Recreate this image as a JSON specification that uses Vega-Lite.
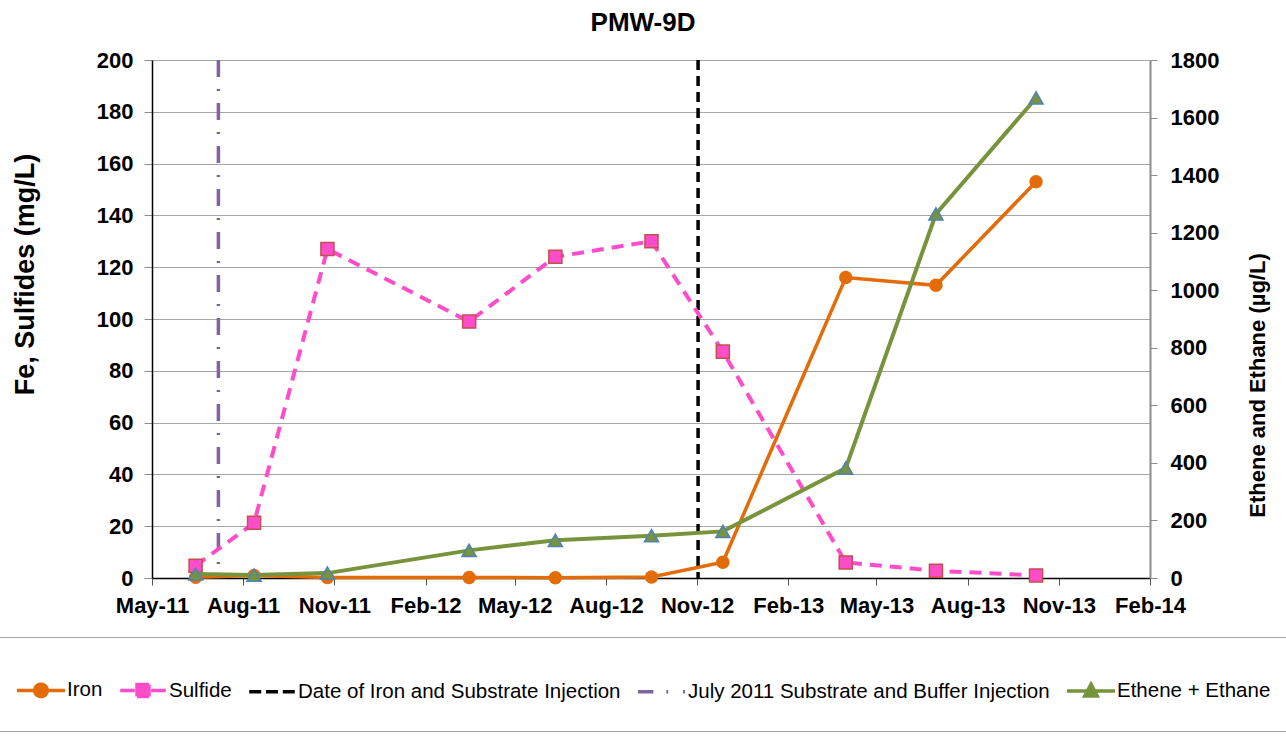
{
  "$schema": "https://vega.github.io/schema/vega-lite/v6.json",
  "width": 998,
  "height": 518,
  "autosize": "none",
  "padding": {"left": 152, "top": 60, "right": 136, "bottom": 162},
  "background": "white",
  "config": {
    "view": {"stroke": null},
    "font": "Arial, Liberation Sans, sans-serif",
    "axis": {
      "labelFont": "Arial, Liberation Sans, sans-serif",
      "labelFontSize": 22,
      "labelFontWeight": "bold",
      "labelColor": "black",
      "titleFont": "Arial, Liberation Sans, sans-serif",
      "titleFontWeight": "bold",
      "titleColor": "black"
    }
  },
  "title": {
    "text": "PMW-9D",
    "font": "Arial, Liberation Sans, sans-serif",
    "fontSize": 26,
    "fontWeight": "bold",
    "color": "black",
    "anchor": "middle",
    "frame": "group",
    "offset": 13,
    "dx": -8
  },
  "data": {
    "values": [
      {"date": "2011-06-14", "series": "Iron", "value": 0.3},
      {"date": "2011-08-12", "series": "Iron", "value": 1.0},
      {"date": "2011-10-25", "series": "Iron", "value": 0.2},
      {"date": "2012-03-16", "series": "Iron", "value": 0.2},
      {"date": "2012-06-11", "series": "Iron", "value": 0.1},
      {"date": "2012-09-16", "series": "Iron", "value": 0.4},
      {"date": "2012-11-27", "series": "Iron", "value": 6.1},
      {"date": "2013-03-31", "series": "Iron", "value": 116},
      {"date": "2013-06-30", "series": "Iron", "value": 113},
      {"date": "2013-10-09", "series": "Iron", "value": 153},
      {"date": "2011-06-14", "series": "Sulfide", "value": 4.7},
      {"date": "2011-08-12", "series": "Sulfide", "value": 21.3},
      {"date": "2011-10-25", "series": "Sulfide", "value": 127},
      {"date": "2012-03-16", "series": "Sulfide", "value": 99},
      {"date": "2012-06-11", "series": "Sulfide", "value": 124},
      {"date": "2012-09-16", "series": "Sulfide", "value": 130},
      {"date": "2012-11-27", "series": "Sulfide", "value": 87.4},
      {"date": "2013-03-31", "series": "Sulfide", "value": 6.0},
      {"date": "2013-06-30", "series": "Sulfide", "value": 2.8},
      {"date": "2013-10-09", "series": "Sulfide", "value": 1.0},
      {"date": "2011-06-14", "series": "Ethene + Ethane", "value": 14},
      {"date": "2011-08-12", "series": "Ethene + Ethane", "value": 10},
      {"date": "2011-10-25", "series": "Ethene + Ethane", "value": 17},
      {"date": "2012-03-16", "series": "Ethene + Ethane", "value": 96},
      {"date": "2012-06-11", "series": "Ethene + Ethane", "value": 131},
      {"date": "2012-09-16", "series": "Ethene + Ethane", "value": 147},
      {"date": "2012-11-27", "series": "Ethene + Ethane", "value": 162},
      {"date": "2013-03-31", "series": "Ethene + Ethane", "value": 382},
      {"date": "2013-06-30", "series": "Ethene + Ethane", "value": 1265},
      {"date": "2013-10-09", "series": "Ethene + Ethane", "value": 1668},
      {"date": "2012-11-02", "series": "Date of Iron and Substrate Injection"},
      {"date": "2011-07-07", "series": "July 2011 Substrate and Buffer Injection"}
    ]
  },
  "encoding": {
    "x": {
      "field": "date",
      "type": "temporal",
      "scale": {
        "type": "utc",
        "domain": [
          {"year": 2011, "month": 5, "date": 1, "utc": true},
          {"year": 2014, "month": 2, "date": 1, "utc": true}
        ]
      },
      "axis": {
        "title": null,
        "format": "%b-%y",
        "values": [
          {"year": 2011, "month": 5, "date": 1, "utc": true},
          {"year": 2011, "month": 8, "date": 1, "utc": true},
          {"year": 2011, "month": 11, "date": 1, "utc": true},
          {"year": 2012, "month": 2, "date": 1, "utc": true},
          {"year": 2012, "month": 5, "date": 1, "utc": true},
          {"year": 2012, "month": 8, "date": 1, "utc": true},
          {"year": 2012, "month": 11, "date": 1, "utc": true},
          {"year": 2013, "month": 2, "date": 1, "utc": true},
          {"year": 2013, "month": 5, "date": 1, "utc": true},
          {"year": 2013, "month": 8, "date": 1, "utc": true},
          {"year": 2013, "month": 11, "date": 1, "utc": true},
          {"year": 2014, "month": 2, "date": 1, "utc": true}
        ],
        "grid": false,
        "domainColor": "black",
        "domainWidth": 1.5,
        "tickColor": "#555555",
        "tickSize": 7,
        "tickWidth": 1,
        "labelPadding": 10,
        "labelOverlap": false,
        "labelFlush": false
      }
    }
  },
  "layer": [
    {
      "layer": [
        {
          "transform": [{"filter": "datum.series === 'July 2011 Substrate and Buffer Injection'"}],
          "mark": {"type": "rule", "strokeWidth": 3.5, "strokeDash": [17, 12, 2, 12]},
          "encoding": {
            "color": {
              "field": "series",
              "type": "nominal",
              "scale": {
                "domain": ["Iron", "Sulfide", "Date of Iron and Substrate Injection", "July 2011 Substrate and Buffer Injection", "Ethene + Ethane"],
                "range": ["#E36C09", "#FF4DC9", "#000000", "#8064A2", "#77933C"]
              },
              "legend": {
                "title": null,
                "orient": "none",
                "legendX": -164,
                "legendY": 577,
                "direction": "horizontal",
                "columns": 5,
                "padding": 27,
                "strokeColor": "#a6a6a6",
                "fillColor": "white",
                "symbolSize": 2304,
                "symbolStrokeWidth": 3.5,
                "labelFont": "Arial, Liberation Sans, sans-serif",
                "labelFontSize": 20.5,
                "labelFontWeight": "normal",
                "labelColor": "black",
                "labelLimit": 600,
                "labelOffset": 0,
                "columnPadding": 10,
                "encode": {
                  "symbols": {
                    "update": {
                      "shape": {"signal": "datum.value==='Iron'?'M-1,0H1M0.26,0A0.26,0.26,0,1,1,-0.26,0A0.26,0.26,0,1,1,0.26,0Z':datum.value==='Sulfide'?'M-0.95,0H-0.34M0.34,0H0.95M-0.25,-0.25H0.25V0.25H-0.25Z':datum.value==='Ethene + Ethane'?'M-1,0H1M0,-0.28L0.26,0.21L-0.26,0.21Z':datum.value==='Date of Iron and Substrate Injection'?'M-0.95,0H-0.45M-0.25,0H0.25M0.45,0H0.95':'M-1,0H-0.36M0.18,0H0.26M0.88,0H0.96'"},
                      "fill": {"signal": "datum.value==='Iron'?'#E36C09':datum.value==='Sulfide'?'#FF4DC9':datum.value==='Ethene + Ethane'?'#77933C':'transparent'"},
                      "stroke": {"signal": "datum.value==='Iron'?'#E36C09':datum.value==='Sulfide'?'#FF4DC9':datum.value==='Ethene + Ethane'?'#77933C':datum.value==='Date of Iron and Substrate Injection'?'#000000':'#8064A2'"},
                      "strokeDash": {"value": [1, 0]},
                      "strokeWidth": {"value": 3.5},
                      "opacity": {"value": 1}
                    }
                  }
                }
              }
            }
          }
        },
        {
          "transform": [{"filter": "datum.series === 'Date of Iron and Substrate Injection'"}],
          "mark": {"type": "rule", "strokeWidth": 3.5, "strokeDash": [10, 6]},
          "encoding": {"color": {"field": "series", "type": "nominal"}}
        },
        {
          "transform": [{"filter": "datum.series === 'Iron'"}],
          "mark": {"type": "line", "strokeWidth": 3.5},
          "encoding": {
            "y": {
              "field": "value",
              "type": "quantitative",
              "scale": {"domain": [0, 200], "nice": false},
              "axis": {
                "title": "Fe, Sulfides (mg/L)",
                "titleFontSize": 27,
                "titleAngle": 270,
                "titleX": -127,
                "titleY": 214,
                "titleAlign": "center",
                "titleBaseline": "middle",
                "values": [0, 20, 40, 60, 80, 100, 120, 140, 160, 180, 200],
                "grid": true,
                "gridColor": "#a6a6a6",
                "gridWidth": 1,
                "domainColor": "black",
                "domainWidth": 1.5,
                "tickColor": "#8c8c8c",
                "tickSize": 8,
                "labelPadding": 11
              }
            },
            "color": {"field": "series", "type": "nominal"}
          }
        },
        {
          "transform": [{"filter": "datum.series === 'Iron'"}],
          "mark": {"type": "point", "shape": "circle", "filled": true, "size": 180, "color": "#E36C09", "opacity": 1},
          "encoding": {"y": {"field": "value", "type": "quantitative"}}
        },
        {
          "transform": [{"filter": "datum.series === 'Sulfide'"}],
          "mark": {"type": "line", "strokeWidth": 4, "strokeDash": [12, 8]},
          "encoding": {
            "y": {"field": "value", "type": "quantitative"},
            "color": {"field": "series", "type": "nominal"}
          }
        },
        {
          "transform": [{"filter": "datum.series === 'Sulfide'"}],
          "mark": {"type": "point", "shape": "square", "filled": true, "size": 170, "fill": "#FF4DC9", "stroke": "#C0504D", "strokeWidth": 1.5, "opacity": 1, "fillOpacity": 1},
          "encoding": {"y": {"field": "value", "type": "quantitative"}}
        }
      ]
    },
    {
      "layer": [
        {
          "transform": [{"filter": "datum.series === 'Ethene + Ethane'"}],
          "mark": {"type": "line", "strokeWidth": 4},
          "encoding": {
            "y": {
              "field": "value",
              "type": "quantitative",
              "scale": {"domain": [0, 1800], "nice": false},
              "axis": {
                "orient": "right",
                "title": "Ethene and Ethane (µg/L)",
                "titleFontSize": 22,
                "titleAngle": 270,
                "titleX": 107,
                "titleY": 325,
                "titleAlign": "center",
                "titleBaseline": "middle",
                "format": "d",
                "values": [0, 200, 400, 600, 800, 1000, 1200, 1400, 1600, 1800],
                "grid": false,
                "domainColor": "#8c8c8c",
                "domainWidth": 2,
                "tickColor": "#8c8c8c",
                "tickSize": 7,
                "labelPadding": 13
              }
            },
            "color": {"field": "series", "type": "nominal"}
          }
        },
        {
          "transform": [{"filter": "datum.series === 'Ethene + Ethane'"}],
          "mark": {"type": "point", "shape": "triangle-up", "filled": true, "size": 200, "fill": "#77933C", "stroke": "#4F81BD", "strokeWidth": 1.5, "opacity": 1, "fillOpacity": 1},
          "encoding": {"y": {"field": "value", "type": "quantitative"}}
        }
      ]
    }
  ],
  "resolve": {"scale": {"y": "independent"}}
}
